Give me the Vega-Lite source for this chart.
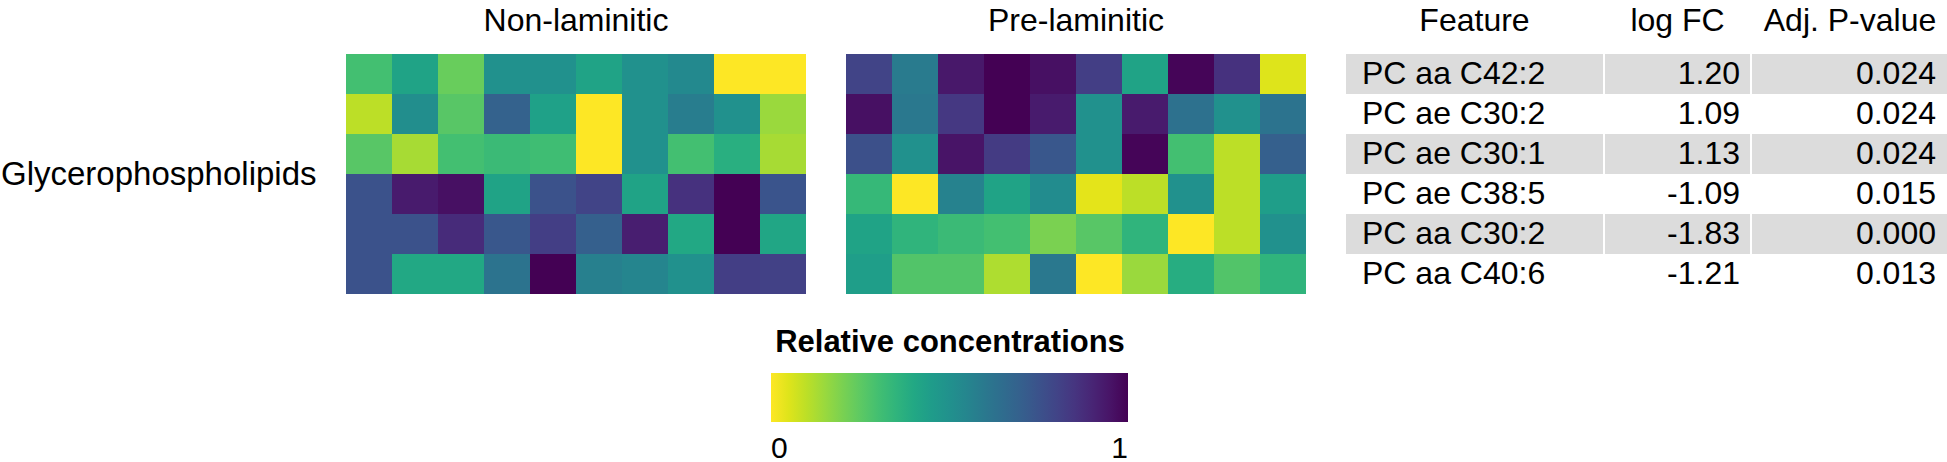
{
  "$schema": "https://vega.github.io/schema/vega-lite/v6.json",
  "padding": {"top": 5, "left": 0, "right": 0, "bottom": 0},
  "background": "white",
  "config": {
    "font": "Liberation Sans",
    "view": {"stroke": null},
    "title": {"fontSize": 32, "fontWeight": "normal", "color": "black", "offset": 16, "anchor": "middle"}
  },
  "datasets": {
    "non": [
      {"row":1,"col":1,"v":0.30},{"row":1,"col":2,"v":0.42},{"row":1,"col":3,"v":0.23},{"row":1,"col":4,"v":0.50},{"row":1,"col":5,"v":0.50},{"row":1,"col":6,"v":0.42},{"row":1,"col":7,"v":0.50},{"row":1,"col":8,"v":0.53},{"row":1,"col":9,"v":0.00},{"row":1,"col":10,"v":0.00},
      {"row":2,"col":1,"v":0.10},{"row":2,"col":2,"v":0.51},{"row":2,"col":3,"v":0.26},{"row":2,"col":4,"v":0.69},{"row":2,"col":5,"v":0.43},{"row":2,"col":6,"v":0.00},{"row":2,"col":7,"v":0.50},{"row":2,"col":8,"v":0.58},{"row":2,"col":9,"v":0.50},{"row":2,"col":10,"v":0.15},
      {"row":3,"col":1,"v":0.26},{"row":3,"col":2,"v":0.13},{"row":3,"col":3,"v":0.30},{"row":3,"col":4,"v":0.32},{"row":3,"col":5,"v":0.31},{"row":3,"col":6,"v":0.00},{"row":3,"col":7,"v":0.50},{"row":3,"col":8,"v":0.30},{"row":3,"col":9,"v":0.37},{"row":3,"col":10,"v":0.13},
      {"row":4,"col":1,"v":0.75},{"row":4,"col":2,"v":0.93},{"row":4,"col":3,"v":0.96},{"row":4,"col":4,"v":0.42},{"row":4,"col":5,"v":0.75},{"row":4,"col":6,"v":0.80},{"row":4,"col":7,"v":0.42},{"row":4,"col":8,"v":0.86},{"row":4,"col":9,"v":1.00},{"row":4,"col":10,"v":0.74},
      {"row":5,"col":1,"v":0.75},{"row":5,"col":2,"v":0.75},{"row":5,"col":3,"v":0.88},{"row":5,"col":4,"v":0.73},{"row":5,"col":5,"v":0.82},{"row":5,"col":6,"v":0.70},{"row":5,"col":7,"v":0.92},{"row":5,"col":8,"v":0.40},{"row":5,"col":9,"v":1.00},{"row":5,"col":10,"v":0.41},
      {"row":6,"col":1,"v":0.75},{"row":6,"col":2,"v":0.40},{"row":6,"col":3,"v":0.40},{"row":6,"col":4,"v":0.62},{"row":6,"col":5,"v":1.00},{"row":6,"col":6,"v":0.57},{"row":6,"col":7,"v":0.55},{"row":6,"col":8,"v":0.50},{"row":6,"col":9,"v":0.82},{"row":6,"col":10,"v":0.81}
    ],
    "pre": [
      {"row":1,"col":1,"v":0.80},{"row":1,"col":2,"v":0.59},{"row":1,"col":3,"v":0.94},{"row":1,"col":4,"v":1.00},{"row":1,"col":5,"v":0.96},{"row":1,"col":6,"v":0.82},{"row":1,"col":7,"v":0.42},{"row":1,"col":8,"v":0.99},{"row":1,"col":9,"v":0.86},{"row":1,"col":10,"v":0.05},
      {"row":2,"col":1,"v":0.96},{"row":2,"col":2,"v":0.60},{"row":2,"col":3,"v":0.84},{"row":2,"col":4,"v":1.00},{"row":2,"col":5,"v":0.93},{"row":2,"col":6,"v":0.50},{"row":2,"col":7,"v":0.93},{"row":2,"col":8,"v":0.63},{"row":2,"col":9,"v":0.50},{"row":2,"col":10,"v":0.62},
      {"row":3,"col":1,"v":0.76},{"row":3,"col":2,"v":0.50},{"row":3,"col":3,"v":0.95},{"row":3,"col":4,"v":0.83},{"row":3,"col":5,"v":0.73},{"row":3,"col":6,"v":0.50},{"row":3,"col":7,"v":0.99},{"row":3,"col":8,"v":0.30},{"row":3,"col":9,"v":0.10},{"row":3,"col":10,"v":0.70},
      {"row":4,"col":1,"v":0.33},{"row":4,"col":2,"v":0.00},{"row":4,"col":3,"v":0.56},{"row":4,"col":4,"v":0.42},{"row":4,"col":5,"v":0.52},{"row":4,"col":6,"v":0.04},{"row":4,"col":7,"v":0.10},{"row":4,"col":8,"v":0.50},{"row":4,"col":9,"v":0.10},{"row":4,"col":10,"v":0.44},
      {"row":5,"col":1,"v":0.42},{"row":5,"col":2,"v":0.35},{"row":5,"col":3,"v":0.32},{"row":5,"col":4,"v":0.30},{"row":5,"col":5,"v":0.20},{"row":5,"col":6,"v":0.26},{"row":5,"col":7,"v":0.35},{"row":5,"col":8,"v":0.00},{"row":5,"col":9,"v":0.10},{"row":5,"col":10,"v":0.50},
      {"row":6,"col":1,"v":0.44},{"row":6,"col":2,"v":0.27},{"row":6,"col":3,"v":0.27},{"row":6,"col":4,"v":0.12},{"row":6,"col":5,"v":0.60},{"row":6,"col":6,"v":0.00},{"row":6,"col":7,"v":0.15},{"row":6,"col":8,"v":0.38},{"row":6,"col":9,"v":0.27},{"row":6,"col":10,"v":0.35}
    ],
    "tbl": [
      {"row":1,"feature":"PC aa C42:2","fc":"1.20","p":"0.024"},
      {"row":2,"feature":"PC ae C30:2","fc":"1.09","p":"0.024"},
      {"row":3,"feature":"PC ae C30:1","fc":"1.13","p":"0.024"},
      {"row":4,"feature":"PC ae C38:5","fc":"-1.09","p":"0.015"},
      {"row":5,"feature":"PC aa C30:2","fc":"-1.83","p":"0.000"},
      {"row":6,"feature":"PC aa C40:6","fc":"-1.21","p":"0.013"}
    ]
  },
  "resolve": {"scale": {"color": "shared"}},
  "spacing": 40,
  "hconcat": [
    {
      "title": "Non-laminitic",
      "width": 460,
      "height": 240,
      "data": {"name": "non"},
      "mark": {"type": "rect"},
      "encoding": {
        "x": {"field": "col", "type": "ordinal", "axis": null, "scale": {"paddingInner": 0, "paddingOuter": 0}},
        "y": {"field": "row", "type": "ordinal", "scale": {"paddingInner": 0, "paddingOuter": 0},
              "axis": {"title": "Glycerophospholipids", "labels": false, "ticks": false, "domain": false, "grid": false,
                       "titleAngle": 0, "titleAlign": "right", "titleBaseline": "middle", "titlePadding": 30,
                       "titleFontSize": 33, "titleFontWeight": "normal", "titleColor": "black", "titleFont": "Liberation Sans"}},
        "color": {"field": "v", "type": "quantitative",
                  "scale": {"scheme": "viridis", "reverse": true, "domain": [0, 1]},
                  "legend": {"orient": "none", "legendX": 425, "legendY": 274, "direction": "horizontal",
                             "title": "Relative concentrations", "titleFontSize": 31, "titleFontWeight": "bold",
                             "titleColor": "black", "titleAnchor": "middle", "titleAlign": "center", "titlePadding": 14,
                             "titleLimit": 600,
                             "gradientLength": 357, "gradientThickness": 49, "gradientStrokeWidth": 0,
                             "values": [0, 1], "format": "d", "labelFontSize": 30, "labelColor": "black",
                             "labelOffset": 12, "padding": 0}}
      }
    },
    {
      "title": "Pre-laminitic",
      "width": 460,
      "height": 240,
      "data": {"name": "pre"},
      "mark": {"type": "rect"},
      "encoding": {
        "x": {"field": "col", "type": "ordinal", "axis": null, "scale": {"paddingInner": 0, "paddingOuter": 0}},
        "y": {"field": "row", "type": "ordinal", "axis": null, "scale": {"paddingInner": 0, "paddingOuter": 0}},
        "color": {"field": "v", "type": "quantitative"}
      }
    },
    {
      "spacing": 2,
      "hconcat": [
        {
          "title": "Feature",
          "width": 257,
          "height": 240,
          "data": {"name": "tbl"},
          "encoding": {"y": {"field": "row", "type": "ordinal", "axis": null, "scale": {"paddingInner": 0, "paddingOuter": 0}}},
          "layer": [
            {"transform": [{"filter": "datum.row % 2 == 1"}], "mark": {"type": "rect", "color": "#dcdcdc"},
             "encoding": {"x": {"value": 0}, "x2": {"value": "width"}}},
            {"mark": {"type": "text", "align": "left", "baseline": "middle", "fontSize": 32, "color": "black", "dx": 16},
             "encoding": {"x": {"value": 0}, "text": {"field": "feature"}}}
          ]
        },
        {
          "title": "log FC",
          "width": 145,
          "height": 240,
          "data": {"name": "tbl"},
          "encoding": {"y": {"field": "row", "type": "ordinal", "axis": null, "scale": {"paddingInner": 0, "paddingOuter": 0}}},
          "layer": [
            {"transform": [{"filter": "datum.row % 2 == 1"}], "mark": {"type": "rect", "color": "#dcdcdc"},
             "encoding": {"x": {"value": 0}, "x2": {"value": "width"}}},
            {"mark": {"type": "text", "align": "right", "baseline": "middle", "fontSize": 32, "color": "black", "dx": -10},
             "encoding": {"x": {"value": "width"}, "text": {"field": "fc"}}}
          ]
        },
        {
          "title": "Adj. P-value",
          "width": 196,
          "height": 240,
          "data": {"name": "tbl"},
          "encoding": {"y": {"field": "row", "type": "ordinal", "axis": null, "scale": {"paddingInner": 0, "paddingOuter": 0}}},
          "layer": [
            {"transform": [{"filter": "datum.row % 2 == 1"}], "mark": {"type": "rect", "color": "#dcdcdc"},
             "encoding": {"x": {"value": 0}, "x2": {"value": "width"}}},
            {"mark": {"type": "text", "align": "right", "baseline": "middle", "fontSize": 32, "color": "black", "dx": -12},
             "encoding": {"x": {"value": "width"}, "text": {"field": "p"}}}
          ]
        }
      ]
    }
  ]
}
